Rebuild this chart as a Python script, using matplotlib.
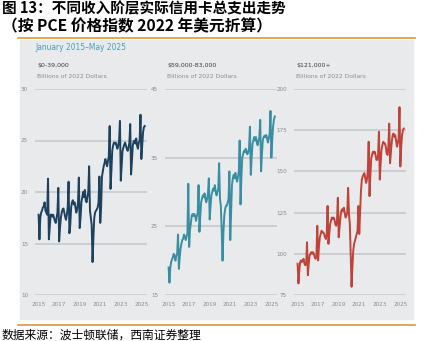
import numpy as np
import matplotlib.pyplot as plt
from matplotlib.patches import Rectangle
from matplotlib.lines import Line2D

plt.rcParams['font.family'] = ['Noto Sans CJK SC', 'DejaVu Sans']

# monthly, Jan 2015 - May 2025, billions of 2022 dollars
low_income = [
    17.8, 15.4, 17.5, 18.0, 18.2, 18.5, 18.6, 19.0, 18.2, 18.0, 17.8, 21.3,
    15.4, 16.5, 17.8, 17.8, 17.6, 17.8, 17.5, 17.2, 17.0, 17.5, 18.0, 20.4,
    15.2, 16.5, 17.5, 18.0, 18.3, 18.4, 18.0, 17.6, 17.3, 17.8, 18.5, 21.0,
    16.0, 16.8, 18.5, 19.0, 19.2, 18.8, 19.0, 18.5, 18.0, 18.3, 19.0, 21.4,
    16.5, 17.5, 19.0, 19.5, 20.0, 19.5, 20.2, 19.2, 19.0, 19.5, 20.0, 22.5,
    18.2, 17.5, 16.8, 13.2, 15.5, 17.5, 18.0, 18.2, 18.3, 18.5, 19.0, 21.5,
    17.0, 18.5, 21.5, 22.0, 22.5, 22.8, 23.2, 22.8, 22.5, 23.0, 23.5, 26.4,
    20.3, 22.0, 24.0, 24.5, 24.8, 24.7, 24.8, 24.5, 24.2, 24.5, 25.0, 26.9,
    21.1, 22.5, 24.0, 24.3, 24.6, 24.8, 24.5, 24.2, 24.0, 24.3, 24.8, 26.6,
    21.7, 23.0, 24.5, 24.9, 25.0, 24.7, 25.2, 24.5, 24.2, 24.8, 25.0, 27.5,
    23.2, 24.5, 25.8, 26.3, 26.4,
]
mid_income = [
    19.0, 16.8, 19.0, 19.8, 20.2, 20.5, 21.0, 20.5, 20.0, 20.8, 21.0, 23.8,
    18.8, 20.5, 21.8, 22.5, 23.0, 23.2, 23.8, 23.5, 23.0, 23.5, 24.0, 31.2,
    22.0, 24.5, 25.5, 26.5, 26.8, 26.5, 26.8, 26.5, 25.8, 26.5, 27.0, 31.0,
    24.2, 26.5, 28.5, 29.0, 29.5, 29.3, 29.8, 29.0, 28.5, 29.0, 29.8, 32.0,
    26.0, 28.0, 29.5, 30.0, 30.5, 30.2, 31.0, 30.0, 29.5, 30.0, 30.5, 34.2,
    29.0, 28.0, 24.5, 20.0, 24.0, 26.5, 27.5, 28.0, 28.0, 28.5, 29.0, 33.0,
    23.0, 27.0, 31.0, 32.0, 32.5, 32.0, 32.8, 32.0, 31.5, 32.2, 33.0, 37.5,
    28.2, 32.0, 35.0, 35.5, 36.0, 35.8, 36.3, 35.8, 35.5, 35.8, 36.5, 39.5,
    32.5, 35.0, 37.0, 37.5, 38.0, 37.5, 38.0, 37.2, 36.8, 37.5, 38.0, 40.5,
    33.0, 35.5, 37.5, 38.0, 38.2, 38.0, 38.3, 37.8, 37.2, 37.8, 38.5, 41.8,
    35.0, 37.5, 39.5, 40.5, 41.0,
]
high_income = [
    94, 82, 90, 95, 96, 95, 96, 97, 94, 93, 94, 107,
    87, 94, 99, 100, 101, 100, 101, 100, 98, 97, 99, 117,
    96, 105, 110, 112, 114, 113, 113, 112, 110, 109, 112, 129,
    106, 112, 118, 120, 122, 121, 122, 121, 118, 117, 120, 134,
    110, 116, 122, 126, 127, 126, 128, 125, 122, 123, 125, 140,
    124, 118, 100, 80, 92, 102, 106, 108, 110, 112, 114, 129,
    112, 125, 138, 145, 147, 148, 149, 146, 143, 145, 150, 168,
    135, 148, 158, 160, 162, 161, 162, 160, 157, 157, 160, 174,
    145, 155, 163, 166, 168, 167, 167, 165, 161, 160, 165, 179,
    155, 162, 168, 172, 173, 171, 172, 169, 165, 167, 170, 189,
    153, 165, 172, 175, 176,
]
panel_labels = ["$0-39,000", "$59,000-83,000", "$121,000+"]
y_ticks = [[10, 15, 20, 25, 30], [15, 25, 35, 45], [75, 100, 125, 150, 175, 200]]
year_ticks = [2015, 2017, 2019, 2021, 2023, 2025]
colors = ["#1d4260", "#3a8ea3", "#c0433a"]

W, H = 429, 341
fig = plt.figure(figsize=(W / 100, H / 100), dpi=100)

def fx(px):
    return px / W

def fy(py):
    return 1 - py / H

# background panel and orange rules
fig.patches.append(Rectangle((fx(20), fy(319)), fx(393), fy(40) - fy(319),
                             transform=fig.transFigure, color="#e9eaeb", zorder=-5))
for y in (38, 325):
    fig.lines.append(Line2D([fx(18), fx(415)], [fy(y), fy(y)], transform=fig.transFigure,
                            color="#d99a3c", lw=1.2, zorder=-4))

fig.text(fx(2), fy(8), "图 13：不同收入阶层实际信用卡总支出走势", fontsize=10.5,
         fontweight="bold", va="center", ha="left")
fig.text(fx(2), fy(26), "（按 PCE 价格指数 2022 年美元折算）", fontsize=11.3,
         fontweight="bold", va="center", ha="left")
fig.text(fx(35), fy(48), "January 2015–May 2025", fontsize=6, color="#4b9cb8",
         va="center", ha="left", family="DejaVu Sans", stretch="condensed")
fig.text(fx(2), fy(335), "数据来源：波士顿联储，西南证券整理", fontsize=8.5,
         va="center", ha="left", style="italic")

x = np.arange(len(low_income))
t = 2015 + x / 12
series = [low_income, mid_income, high_income]
lefts = [35, 165, 294]

for i in range(3):
    ax = fig.add_axes([fx(lefts[i]), fy(295), fx(112), fy(89) - fy(295)])
    ax.set_facecolor("none")
    ax.plot(t, series[i], color=colors[i], lw=1.4, zorder=3)
    ax.set_ylim(y_ticks[i][0], y_ticks[i][-1])
    ax.set_xlim(2014.65, 2025.55)
    ax.set_yticks(y_ticks[i])
    ax.set_xticks(year_ticks)
    ax.set_xticklabels([str(v) for v in year_ticks])
    ax.yaxis.grid(True, color="#cbcccd", lw=1.3)
    ax.set_axisbelow(True)
    for s in ax.spines.values():
        s.set_visible(False)
    ax.tick_params(length=0, labelsize=4.5, colors="#8a8a8a", pad=5)
    ax.tick_params(axis="x", pad=5)
    for lab in ax.get_xticklabels() + ax.get_yticklabels():
        lab.set_family("DejaVu Sans")
        lab.set_stretch("condensed")
    fig.text(fx(lefts[i] + 2), fy(66), panel_labels[i], fontsize=4.5, color="#3c3c3c",
             va="center", ha="left", family="DejaVu Sans")
    fig.text(fx(lefts[i] + 2), fy(77), "Billions of 2022 Dollars", fontsize=4.3,
             color="#8a8a8a", va="center", ha="left", family="DejaVu Sans")

fig.savefig("out.png", dpi=100)
